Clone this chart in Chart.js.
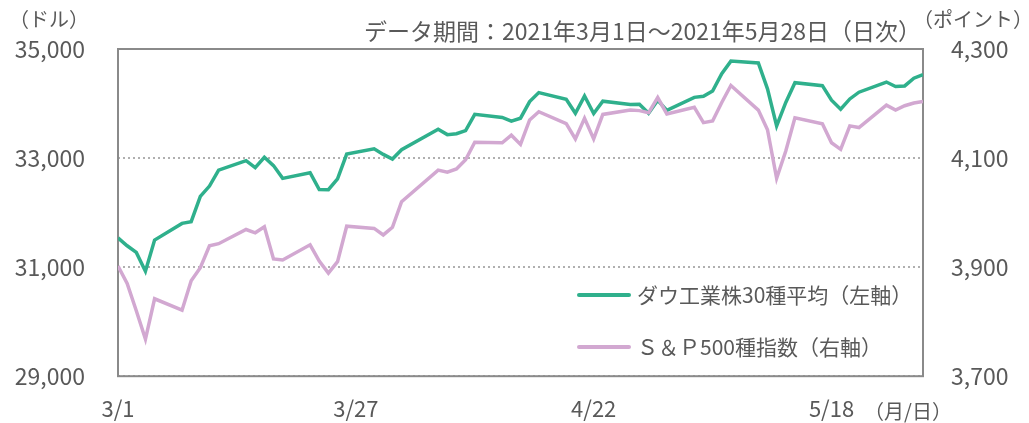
<!DOCTYPE html>
<html>
<head>
<meta charset="utf-8">
<script src="https://cdn.jsdelivr.net/npm/chart.js@4"></script>
<style>
  html, body { margin: 0; padding: 0; background: #fff; }
  #chart { display: block; }
</style>
</head>
<body>
<canvas id="chart" width="1029" height="423"></canvas>
<script>
// trading days, 2021/3/1 - 2021/5/28
const dates = [
  "3/1","3/2","3/3","3/4","3/5","3/8","3/9","3/10","3/11","3/12",
  "3/15","3/16","3/17","3/18","3/19","3/22","3/23","3/24","3/25","3/26",
  "3/29","3/30","3/31","4/1","4/5","4/6","4/7","4/8","4/9","4/12",
  "4/13","4/14","4/15","4/16","4/19","4/20","4/21","4/22","4/23","4/26",
  "4/27","4/28","4/29","4/30","5/3","5/4","5/5","5/6","5/7","5/10",
  "5/11","5/12","5/13","5/14","5/17","5/18","5/19","5/20","5/21","5/24",
  "5/25","5/26","5/27","5/28"
];
const dow = [
  31536,31392,31270,30924,31496,31802,31833,32297,32486,32779,
  32953,32826,33015,32862,32628,32731,32423,32420,32619,33073,
  33171,33067,32982,33153,33527,33430,33446,33504,33801,33745,
  33677,33731,34036,34201,34078,33821,34137,33816,34043,33982,
  33985,33820,34060,33875,34113,34133,34230,34549,34778,34743,
  34269,33588,34021,34382,34328,34061,33896,34084,34208,34394,
  34312,34323,34465,34529
];
const sp500 = [
  3902,3870,3820,3768,3842,3821,3875,3899,3939,3943,
  3969,3963,3974,3915,3913,3941,3911,3889,3910,3975,
  3971,3959,3973,4020,4078,4074,4080,4097,4129,4128,
  4142,4125,4170,4185,4163,4135,4173,4135,4180,4188,
  4187,4183,4211,4181,4193,4165,4168,4202,4233,4188,
  4152,4063,4113,4174,4163,4128,4116,4159,4156,4197,
  4188,4196,4201,4204
];
const xTicks = ["3/1","3/27","4/22","5/18"];
const dowTicks = [29000, 31000, 33000, 35000];
const spTicks = [3700, 3900, 4100, 4300];

const seriesNames = ["ダウ工業株30種平均（左軸）", "Ｓ＆Ｐ500種指数（右軸）"];
const seriesColors = ["#2fb08c", "#d2a8d1"];
const titleText = "データ期間：2021年3月1日～2021年5月28日（日次）";

const FONT = '"Noto Sans CJK JP", "Noto Sans", sans-serif';
const TEXT = "#595959";

function dayOf(md) {
  const [m, d] = md.split("/").map(Number);
  return Math.round((Date.UTC(2021, m - 1, d) - Date.UTC(2021, 2, 1)) / 864e5);
}
function labelOf(v) {
  const dt = new Date(Date.UTC(2021, 2, 1 + v));
  return (dt.getUTCMonth() + 1) + "/" + dt.getUTCDate();
}

const dowPts = dates.map((d, i) => ({ x: dayOf(d), y: dow[i] }));
const spPts = dates.map((d, i) => ({ x: dayOf(d), y: sp500[i] }));

const extras = {
  id: "extras",
  beforeDatasetsDraw(chart) {
    const { ctx, chartArea: a } = chart;
    ctx.save();
    ctx.strokeStyle = "#8a8a8a";
    ctx.lineWidth = 2;
    ctx.strokeRect(a.left, a.top, a.right - a.left, a.bottom - a.top);
    ctx.restore();
  },
  afterDraw(chart) {
    const ctx = chart.ctx;
    ctx.save();
    ctx.fillStyle = TEXT;
    ctx.textBaseline = "middle";

    ctx.font = "23px " + FONT;
    ctx.textAlign = "right";
    ctx.fillText(titleText, 921, 31);

    ctx.font = "20px " + FONT;
    ctx.textAlign = "center";
    ctx.fillText("（ドル）", 49, 19);
    ctx.fillText("（ポイント）", 973, 19);
    ctx.fillText("（月/日）", 908, 411);

    // legend
    const rows = [295, 347];
    ctx.font = "21px " + FONT;
    ctx.textAlign = "left";
    rows.forEach((y, i) => {
      ctx.strokeStyle = seriesColors[i];
      ctx.lineWidth = 4;
      ctx.lineCap = "round";
      ctx.beginPath();
      ctx.moveTo(579, y);
      ctx.lineTo(629, y);
      ctx.stroke();
      ctx.fillText(seriesNames[i], 637, y);
    });
    ctx.restore();
  }
};

new Chart(document.getElementById("chart"), {
  type: "line",
  data: {
    datasets: [
      {
        label: seriesNames[0],
        data: dowPts,
        yAxisID: "yL",
        borderColor: seriesColors[0],
        borderWidth: 3.5,
        pointRadius: 0,
        tension: 0,
        order: 1
      },
      {
        label: seriesNames[1],
        data: spPts,
        yAxisID: "yR",
        borderColor: seriesColors[1],
        borderWidth: 3.5,
        pointRadius: 0,
        tension: 0,
        order: 0
      }
    ]
  },
  options: {
    responsive: false,
    animation: false,
    layout: { padding: { top: 49, left: 0, right: 0, bottom: 0 } },
    plugins: {
      legend: { display: false },
      tooltip: { enabled: false }
    },
    scales: {
      x: {
        type: "linear",
        min: 0,
        max: dayOf("5/28"),
        grid: { display: false },
        border: { display: false },
        afterBuildTicks: s => { s.ticks = xTicks.map(t => ({ value: dayOf(t) })); },
        afterFit: s => { s.height = 46; },
        ticks: {
          callback: v => labelOf(v),
          color: TEXT,
          font: { family: FONT, size: 22 },
          padding: 11,
          maxRotation: 0,
          autoSkip: false
        }
      },
      yL: {
        position: "left",
        min: dowTicks[0],
        max: dowTicks[dowTicks.length - 1],
        afterBuildTicks: s => { s.ticks = dowTicks.map(v => ({ value: v })); },
        afterFit: s => { s.width = 118; },
        grid: { color: "#b0b0b0", lineWidth: 2, drawTicks: false },
        border: { display: false, dash: [2, 3] },
        ticks: {
          callback: v => v.toLocaleString("en-US"),
          color: TEXT,
          font: { family: FONT, size: 23 },
          padding: 33
        }
      },
      yR: {
        position: "right",
        min: spTicks[0],
        max: spTicks[spTicks.length - 1],
        afterBuildTicks: s => { s.ticks = spTicks.map(v => ({ value: v })); },
        afterFit: s => { s.width = 106; },
        grid: { display: false, drawTicks: false },
        border: { display: false },
        ticks: {
          callback: v => v.toLocaleString("en-US"),
          color: TEXT,
          font: { family: FONT, size: 23 },
          padding: 28
        }
      }
    }
  },
  plugins: [extras]
});
</script>
</body>
</html>
